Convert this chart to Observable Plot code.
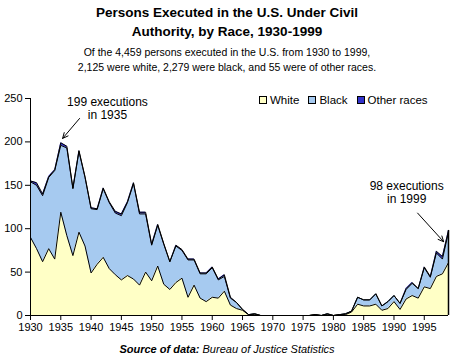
<!DOCTYPE html>
<html><head><meta charset="utf-8">
<script src="https://cdn.jsdelivr.net/npm/d3@7"></script>
<script src="https://cdn.jsdelivr.net/npm/@observablehq/plot@0.6"></script>
<style>
body{margin:0;background:#fff;width:454px;height:363px;position:relative;overflow:hidden;font-family:"Liberation Sans",Arial,sans-serif;color:#000;}
.t{position:absolute;left:0;width:454px;text-align:center;white-space:nowrap;}
#legend{position:absolute;top:94px;left:259px;font-size:11.5px;white-space:nowrap;display:flex;align-items:center;}
#legend span.sw{display:inline-block;width:6px;height:6px;border:1px solid #000;margin-right:3px;}
#legend span.it{display:inline-flex;align-items:center;margin-right:9px;}
</style></head><body>
<div class="t" style="top:3px;font-weight:bold;font-size:13.5px;line-height:19px;">Persons Executed in the U.S. Under Civil<br>Authority, by Race, 1930-1999</div>
<div class="t" style="top:45px;font-size:10.5px;line-height:15px;">Of the 4,459 persons executed in the U.S. from 1930 to 1999,<br>2,125 were white, 2,279 were black, and 55 were of other races.</div>
<div id="chart" style="position:absolute;left:0;top:88px;"></div>
<div id="legend"></div>
<div class="t" style="top:343px;font-style:italic;font-size:11px;"><b>Source of data:</b> Bureau of Justice Statistics</div>
<script>
const years = d3.range(1930, 2000);
const races = ["White", "Black", "Other races"];
const colors = ["#FFFFC6", "#A6CAF0", "#3333CC"];
const white = [90,77,62,77,65,119,92,69,96,80, 49,59,67,54,47,41,46,42,35,50, 40,57,36,30,38,43,21,35,20,16, 21,20,28,12,8,6,1,1,0,0, 0,0,0,0,0,0,0,1,0,1, 0,1,1,4,13,11,11,13,6,8, 16,7,19,23,20,33,31,45,48,61];
const black = [64,73,76,82,102,77,101,77,93,79, 74,63,79,76,71,74,84,110,82,67, 41,47,46,32,42,32,43,29,28,32, 34,21,17,8,7,1,0,1,0,0, 0,0,0,0,0,0,0,0,0,1, 0,0,1,1,8,7,7,12,5,8, 7,7,11,14,11,22,13,27,17,35];
const other = [1,3,2,1,1,3,2,1,1,1, 1,1,1,1,2,2,1,1,2,2, 1,1,1,0,1,1,1,1,1,1, 1,1,2,1,0,0,0,0,0,0, 0,0,0,0,0,0,0,0,0,0, 0,0,0,0,0,0,0,0,0,0, 0,0,1,1,0,1,1,2,3,2];
const series = [white, black, other];
const xTicks = d3.range(1930, 2000, 5);
const yTicks = [0, 50, 100, 150, 200, 250];
const notes = [
  {year: 1942.7, value: 239, text: "199 executions\nin 1935"},
  {year: 1992.1, value: 142, text: "98 executions\nin 1999"}
];
const pointers = [
  {x1: 1938.1, y1: 227, x2: 1935.3, y2: 204},
  {x1: 1993.9, y1: 118, x2: 1998.2, y2: 85}
];

const data = years.flatMap((yr, i) => races.map((r, j) => ({year: yr, race: r, n: series[j][i]})));
const totals = years.map((yr, i) => ({year: yr, total: white[i] + black[i] + other[i]}));
const last = totals.filter(d => d.year === 1999);

const chart = Plot.plot({
  width: 454, height: 252,
  marginTop: 10, marginBottom: 25, marginLeft: 30, marginRight: 6,
  style: {fontFamily: "'Liberation Sans Narrow','Liberation Sans',Arial,sans-serif", fontSize: "11px", color: "#000", background: "#fff", overflow: "visible"},
  x: {domain: [1930, 1999], label: null},
  y: {domain: [0, 250], label: null},
  color: {domain: races, range: colors},
  marks: [
    Plot.areaY(data, {x: "year", y: "n", fill: "race", z: "race", order: races}),
    Plot.lineY(data, Plot.stackY2({x: "year", y: "n", z: "race", order: races, stroke: "#000", strokeWidth: 1})),
    Plot.ruleX(last, {x: "year", y1: 0, y2: "total", stroke: "#000", strokeWidth: 1.5}),
    Plot.ruleX([1930], {stroke: "#000"}),
    Plot.ruleY([0], {stroke: "#000"}),
    Plot.axisX({ticks: xTicks, tickSize: 5, tickPadding: 3, tickFormat: d => String(d), label: null, fontSize: 11}),
    Plot.axisY({ticks: yTicks, tickSize: 5, tickPadding: 3, label: null, fontSize: 11}),
    Plot.text(notes, {x: "year", y: "value", text: "text", fontSize: 12, lineHeight: 1.08, fontFamily: "'Liberation Sans',Arial,sans-serif", fill: "#000"}),
    Plot.arrow(pointers, {x1: "x1", y1: "y1", x2: "x2", y2: "y2", stroke: "#000", strokeWidth: 1, headLength: 9, headAngle: 50})
  ]
});
document.getElementById("chart").append(chart);

const lg = document.getElementById("legend");
races.forEach((r, i) => {
  const it = document.createElement("span");
  it.className = "it";
  it.innerHTML = `<span class="sw" style="background:${colors[i]}"></span>${r}`;
  lg.append(it);
});
</script>
</body></html>
